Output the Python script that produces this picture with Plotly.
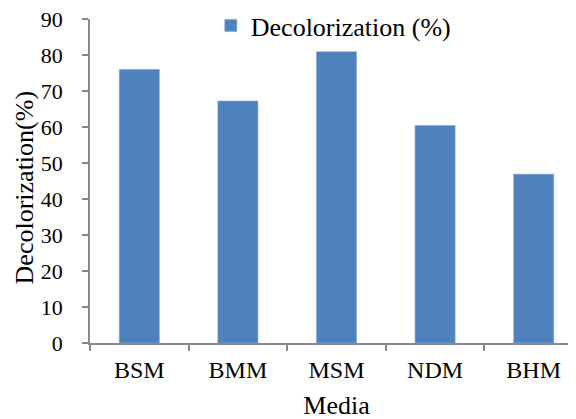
import plotly.graph_objects as go

media = ["BSM", "BMM", "MSM", "NDM", "BHM"]
decolorization = [76.0, 67.2, 80.9, 60.4, 46.9]
series_name = "Decolorization (%)"
x_title = "Media"
y_title = "Decolorization(%)"

FONT = "Liberation Serif"
AXIS_COLOR = "#8a8a8a"

fig = go.Figure()
fig.add_trace(go.Bar(
    x=media,
    y=decolorization,
    name=series_name,
    marker=dict(color="#4F81BD", line=dict(width=0.6, color="#7ea3d3")),
    showlegend=True,
))

# the page body adds an 8px offset, so margins are reduced accordingly
fig.update_layout(
    width=576,
    height=419,
    margin=dict(l=82, r=1, t=11, b=84, autoexpand=False),
    paper_bgcolor="white",
    plot_bgcolor="white",
    bargap=0.594,
    font=dict(family=FONT, color="black", size=22),
    showlegend=True,
    legend=dict(
        x=0.245, y=0.98, xanchor="left", yanchor="middle",
        font=dict(family=FONT, size=26, color="black"),
        bgcolor="rgba(0,0,0,0)",
    ),
    xaxis=dict(
        type="category",
        range=[-0.5, 4.5],
        automargin=False,
        showline=True, linecolor=AXIS_COLOR, linewidth=1.5,
        ticks="outside", tickson="boundaries", ticklen=6, tickcolor=AXIS_COLOR, tickwidth=1.5,
        ticklabelstandoff=4,
        tickfont=dict(family=FONT, size=24, color="black"),
        showgrid=False, zeroline=False,
        title=dict(text=x_title, font=dict(family=FONT, size=26, color="black"), standoff=14),
    ),
    yaxis=dict(
        range=[0, 90], dtick=10, tick0=0,
        automargin=False,
        showline=True, linecolor=AXIS_COLOR, linewidth=1.5,
        ticks="outside", ticklen=6, tickcolor=AXIS_COLOR, tickwidth=1.5,
        ticklabelstandoff=15, ticklabeloverflow="allow",
        tickfont=dict(family=FONT, size=22, color="black"),
        showgrid=False, zeroline=False,
    ),
    annotations=[dict(
        text=y_title, textangle=-90, showarrow=False,
        xref="paper", yref="paper", x=-0.132, y=0.48,
        xanchor="center", yanchor="middle",
        font=dict(family=FONT, size=26, color="black"),
    )],
)

fig.write_html("out.html")
